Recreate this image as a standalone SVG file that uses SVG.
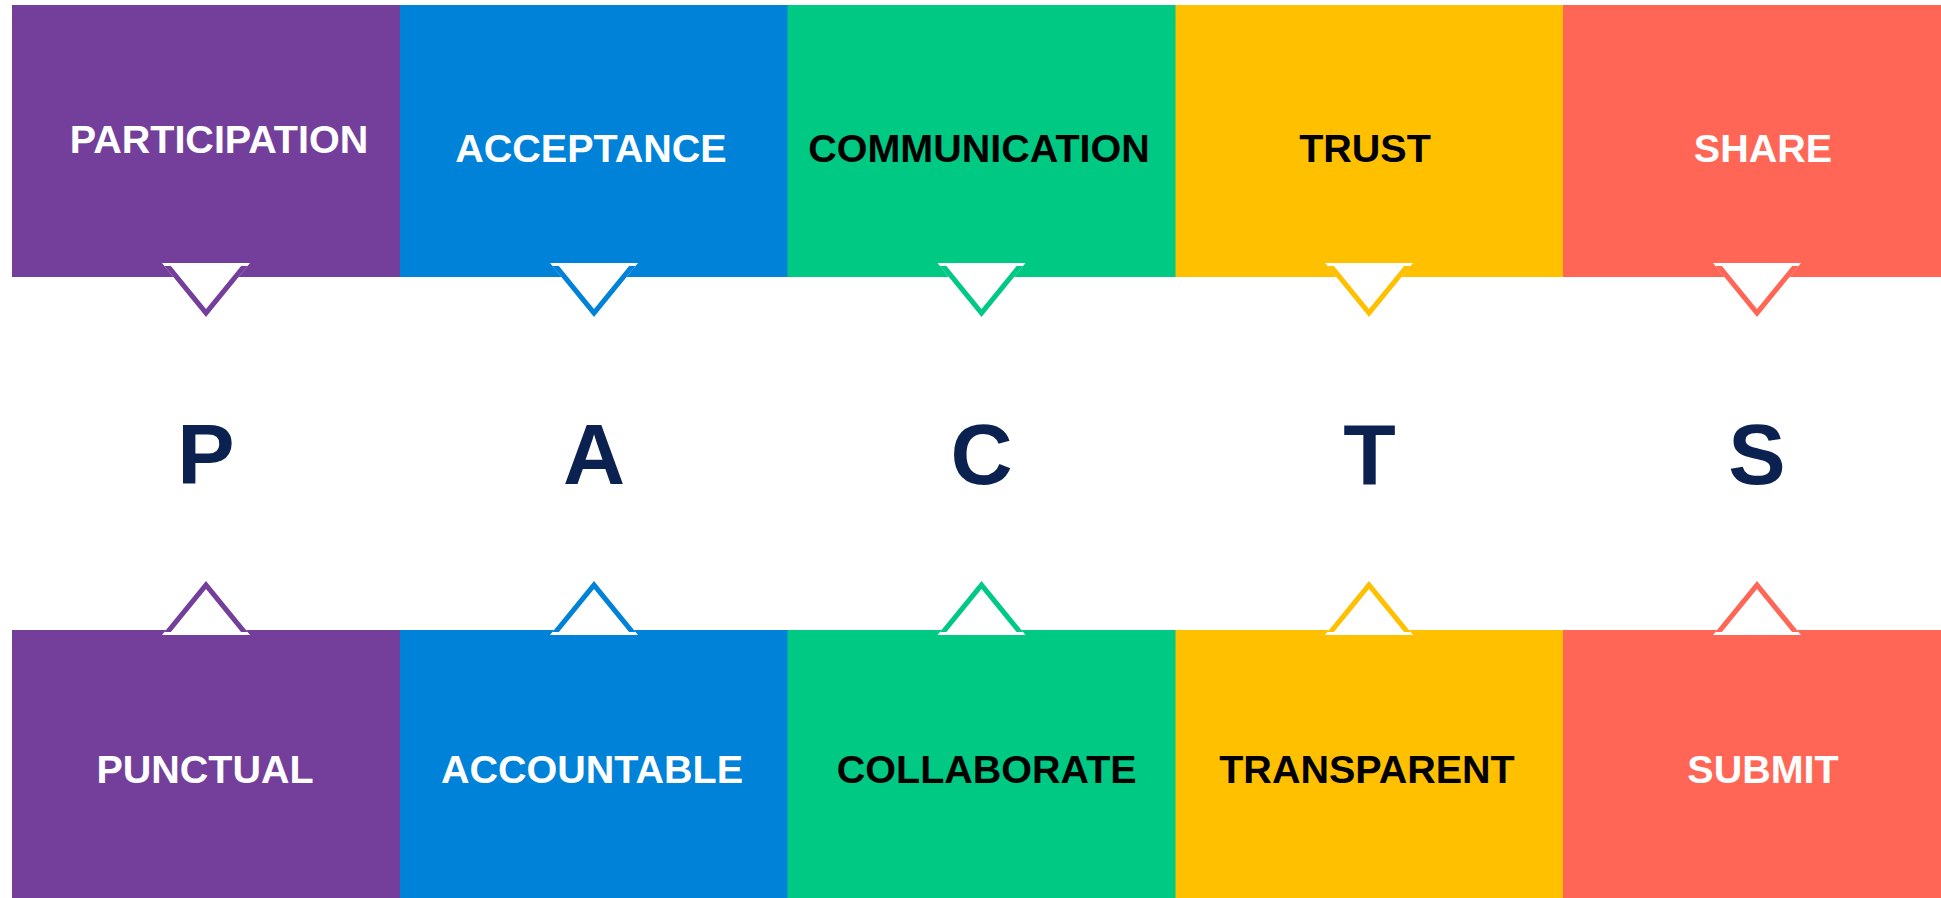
<svg xmlns="http://www.w3.org/2000/svg" width="1941" height="898" viewBox="0 0 1941 898">
  <style>
    .lbl { font-family: "Liberation Sans", Arial, sans-serif; font-weight: bold; font-size: 39.5px; text-anchor: middle; }
    .w { fill: #ffffff; }
    .k { fill: #000000; }
    .big { font-family: "Liberation Sans", Arial, sans-serif; font-weight: bold; font-size: 86px; text-anchor: middle; fill: #0b2150; }
    .c1 { fill: #743f9b; } .s1 { color: #743f9b; }
    .c2 { fill: #0082d9; } .s2 { color: #0082d9; }
    .c3 { fill: #00c984; } .s3 { color: #00c984; }
    .c4 { fill: #ffc000; } .s4 { color: #ffc000; }
    .c5 { fill: #ff6656; } .s5 { color: #ff6656; }
  </style>
  <defs>
    <g id="ptr-down">
      <path d="M-44,0 L44,0 L0,54 Z" fill="#ffffff"/>
      <path d="M-41.6,3 L0,54 L41.6,3 L35.1,3 L0,46.1 L-35.1,3 Z" fill="currentColor"/>
    </g>
    <g id="ptr-up">
      <path d="M-44,0 L44,0 L0,-54 Z" fill="#ffffff"/>
      <path d="M-41.6,-3 L0,-54 L41.6,-3 L35.1,-3 L0,-46.1 L-35.1,-3 Z" fill="currentColor"/>
    </g>
  </defs>
  <rect x="0" y="0" width="1941" height="898" fill="#ffffff"/>

  <g id="top-participation">
    <rect class="c1" x="12" y="5" width="388.5" height="272"/>
    <text class="lbl w" x="219" y="153">PARTICIPATION</text>
  </g>
  <g id="top-acceptance">
    <rect class="c2" x="400" y="5" width="388" height="272"/>
    <text class="lbl w" x="591" y="161.7">ACCEPTANCE</text>
  </g>
  <g id="top-communication">
    <rect class="c3" x="787.5" y="5" width="388.5" height="272"/>
    <text class="lbl k" x="979" y="161.7">COMMUNICATION</text>
  </g>
  <g id="top-trust">
    <rect class="c4" x="1175.5" y="5" width="388" height="272"/>
    <text class="lbl k" x="1365" y="161.7">TRUST</text>
  </g>
  <g id="top-share">
    <rect class="c5" x="1563" y="5" width="378" height="272"/>
    <text class="lbl w" x="1763" y="161.7">SHARE</text>
  </g>

  <g id="bottom-punctual">
    <rect class="c1" x="12" y="630" width="388.5" height="268"/>
    <text class="lbl w" x="205" y="782.7">PUNCTUAL</text>
  </g>
  <g id="bottom-accountable">
    <rect class="c2" x="400" y="630" width="388" height="268"/>
    <text class="lbl w" x="592" y="782.7">ACCOUNTABLE</text>
  </g>
  <g id="bottom-collaborate">
    <rect class="c3" x="787.5" y="630" width="388.5" height="268"/>
    <text class="lbl k" x="986.7" y="782.7">COLLABORATE</text>
  </g>
  <g id="bottom-transparent">
    <rect class="c4" x="1175.5" y="630" width="388" height="268"/>
    <text class="lbl k" x="1367" y="782.7">TRANSPARENT</text>
  </g>
  <g id="bottom-submit">
    <rect class="c5" x="1563" y="630" width="378" height="268"/>
    <text class="lbl w" x="1763" y="782.7">SUBMIT</text>
  </g>

  <g id="letter-p"><text class="big" x="206" y="484">P</text></g>
  <g id="letter-a"><text class="big" x="594" y="484">A</text></g>
  <g id="letter-c"><text class="big" x="981.5" y="484">C</text></g>
  <g id="letter-t"><text class="big" x="1369.5" y="484">T</text></g>
  <g id="letter-s"><text class="big" x="1757" y="484">S</text></g>

  <g id="connectors">
    <use href="#ptr-down" class="s1" transform="translate(206,263)"/>
    <use href="#ptr-down" class="s2" transform="translate(594,263)"/>
    <use href="#ptr-down" class="s3" transform="translate(981.5,263)"/>
    <use href="#ptr-down" class="s4" transform="translate(1369,263)"/>
    <use href="#ptr-down" class="s5" transform="translate(1757,263)"/>

    <use href="#ptr-up" class="s1" transform="translate(206,635)"/>
    <use href="#ptr-up" class="s2" transform="translate(594,635)"/>
    <use href="#ptr-up" class="s3" transform="translate(981.5,635)"/>
    <use href="#ptr-up" class="s4" transform="translate(1369,635)"/>
    <use href="#ptr-up" class="s5" transform="translate(1757,635)"/>
  </g>
</svg>
